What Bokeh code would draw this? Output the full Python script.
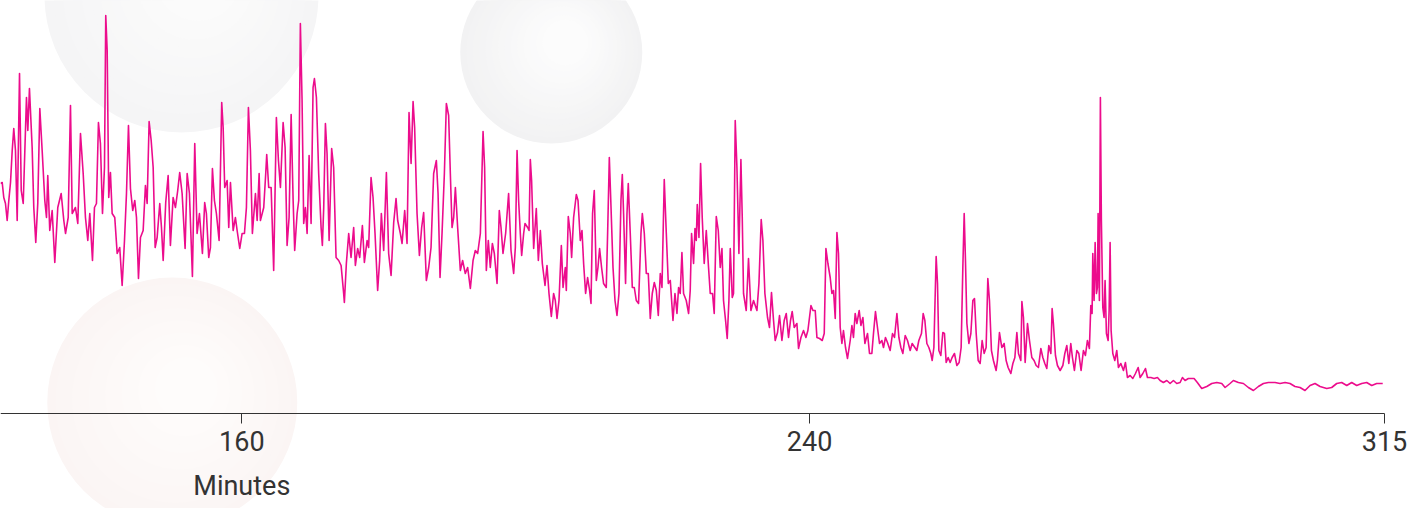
import numpy as np
from bokeh.plotting import figure
from bokeh.models import Range1d, FixedTicker, Label
from bokeh.embed import file_html
from bokeh.resources import INLINE

# ---- recorded signal: time (minutes) and level, in sections ----
minutes_a = [126.00, 126.24, 126.46, 126.70, 126.94, 127.17, 127.41, 127.65, 127.87, 128.11, 128.35, 128.68, 128.92, 129.20,
             129.66, 129.85, 130.08, 130.46, 130.69, 130.97, 131.25, 131.54, 131.87, 132.24, 132.48, 132.66, 132.94, 133.28,
             133.65, 134.07, 134.55, 134.92, 135.16, 135.54, 135.86, 136.10, 136.56, 136.89, 137.27, 137.65, 137.97, 138.30,
             138.58, 138.96, 139.24, 139.52, 139.80, 140.08, 140.37, 140.65, 140.83, 141.03, 141.25, 141.49, 141.73, 142.10,
             142.44, 142.80, 143.14, 143.47, 143.75, 144.03, 144.31, 144.63, 144.92, 145.16, 145.44, 145.72, 146.10, 146.42,
             146.66, 146.94, 147.23, 147.51, 147.79, 148.07, 148.44, 148.68, 148.92, 149.28, 149.62, 149.94]
level_a = [230, 231, 216, 210, 193, 213, 231, 263, 285, 263, 193, 340, 223, 210, 316, 283, 325, 266, 206, 171, 210, 305, 263,
           213, 196, 238, 183, 203, 151, 206, 220, 193, 180, 196, 308, 200, 206, 190, 280, 240, 196, 173, 200, 153, 206, 210,
           291, 270, 200, 246, 398, 363, 216, 241, 200, 196, 160, 166, 128, 173, 220, 288, 225, 203, 213, 196, 135, 176, 183,
           228, 210, 292, 273, 246, 166, 176, 210, 186, 153, 211, 238, 168]

minutes_b = [150.32, 150.65, 150.97, 151.25, 151.59, 152.01, 152.30, 152.62, 153.04, 153.37, 153.70, 154.03, 154.45, 154.77,
             155.01, 155.34, 155.58, 155.86, 156.14, 156.42, 156.80, 157.17, 157.37, 157.59, 157.93, 158.16, 158.40, 158.78,
             159.10, 159.34, 159.71, 160.04, 160.37, 160.65, 160.93, 161.21, 161.49, 161.92, 162.16, 162.44, 162.62, 163.09,
             163.37, 163.51, 163.79, 164.13, 164.49, 164.87, 165.16, 165.44, 165.82, 166.10, 166.38, 166.66, 166.95, 167.23,
             167.45, 167.79, 168.02, 168.25, 168.49, 168.72, 168.96, 169.20, 169.48, 169.76, 170.04, 170.23, 170.51, 170.83,
             171.17, 171.35, 171.54, 171.78, 172.01, 172.30, 172.66, 172.94, 173.28, 173.65, 173.99]
level_b = [216, 206, 223, 241, 220, 165, 240, 220, 137, 270, 180, 200, 160, 211, 200, 156, 166, 245, 213, 200, 173, 311, 286,
           226, 233, 186, 231, 183, 196, 183, 165, 180, 180, 206, 306, 263, 180, 220, 193, 240, 193, 206, 240, 259, 226, 226,
           143, 296, 253, 226, 291, 266, 168, 196, 299, 213, 163, 200, 213, 390, 313, 190, 206, 180, 258, 190, 326, 335, 316,
           240, 186, 168, 206, 290, 260, 173, 265, 246, 156, 153, 148]

minutes_c = [174.35, 174.45, 174.73, 175.06, 175.39, 175.76, 176.00, 176.32, 176.61, 176.99, 177.27, 177.65, 177.87, 178.21,
             178.49, 178.77, 179.14, 179.42, 179.66, 179.99, 180.37, 180.69, 181.03, 181.40, 181.73, 181.96, 182.34, 182.58,
             182.95, 183.28, 183.56, 183.85, 184.13, 184.35, 184.69, 185.02, 185.34, 185.62, 186.00, 186.33, 186.66, 187.03,
             187.41, 187.65, 187.93, 188.21, 188.54, 188.82, 189.14, 189.38, 189.62, 189.85, 190.09, 190.41, 190.79, 191.11,
             191.49, 191.82, 192.20, 192.58, 192.90, 193.23, 193.61, 193.99, 194.21, 194.45, 194.73, 195.01, 195.30, 195.58,
             195.96, 196.28, 196.52, 196.80, 197.17, 197.59, 197.93]
level_c = [120, 111, 150, 180, 156, 186, 148, 165, 156, 188, 151, 173, 166, 236, 216, 180, 123, 153, 200, 163, 241, 160, 138,
           191, 215, 193, 180, 170, 203, 170, 301, 250, 312, 286, 200, 158, 186, 201, 133, 146, 166, 240, 253, 220, 136, 180,
           240, 310, 298, 240, 186, 196, 226, 186, 143, 153, 140, 146, 125, 153, 163, 160, 180, 282, 246, 143, 173, 146, 170,
           160, 130, 203, 186, 160, 180, 220, 163]

minutes_d = [198.30, 198.54, 198.78, 199.00, 199.24, 199.43, 199.71, 199.90, 200.27, 200.47, 200.65, 200.83, 201.12, 201.49,
             201.78, 202.06, 202.34, 202.72, 203.00, 203.28, 203.61, 203.93, 204.17, 204.41, 204.69, 205.02, 205.26, 205.58,
             205.72, 206.00, 206.28, 206.47, 206.75, 207.13, 207.37, 207.69, 207.93, 208.16, 208.44, 208.72, 209.00, 209.20,
             209.42, 209.66, 209.95, 210.18, 210.41, 210.69, 210.97, 211.35, 211.54, 211.78, 212.02, 212.30, 212.58, 212.86,
             213.14, 213.42, 213.61, 213.79, 214.07, 214.27, 214.45, 214.73, 215.02, 215.30, 215.58, 215.90, 216.24, 216.43,
             216.71, 216.99, 217.27, 217.55, 217.83, 218.12, 218.40, 218.68, 218.96, 219.20, 219.52, 219.81, 220.09, 220.37,
             220.75, 221.03, 221.31, 221.54]
level_d = [140, 166, 263, 213, 180, 158, 180, 190, 186, 183, 254, 233, 165, 205, 153, 183, 150, 128, 148, 120, 97, 120, 113,
           95, 113, 168, 126, 146, 123, 197, 180, 156, 196, 219, 213, 173, 183, 150, 120, 136, 123, 110, 200, 223, 133, 146,
           165, 146, 130, 126, 180, 256, 206, 146, 113, 98, 120, 213, 239, 200, 130, 200, 230, 180, 126, 126, 113, 110, 180,
           200, 180, 140, 140, 95, 120, 131, 123, 98, 140, 126, 234, 180, 130, 133, 93, 120, 100, 126]

minutes_e = [221.77, 222.01, 222.24, 222.62, 222.95, 223.18, 223.37, 223.65, 223.85, 224.03, 224.17, 224.41, 224.64, 224.87,
             225.15, 225.44, 225.76, 226.00, 226.32, 226.56, 226.85, 227.13, 227.41, 227.65, 227.87, 228.16, 228.39, 228.63,
             228.82, 229.10, 229.28, 229.52, 229.76, 230.04, 230.32, 230.51, 230.69, 231.07, 231.39, 231.73, 232.10, 232.58,
             232.86, 233.18, 233.42, 233.70, 234.07, 234.35, 234.63, 234.92, 235.15, 235.48, 235.76, 236.10, 236.42, 236.71,
             237.03, 237.31, 237.55, 237.83, 238.21, 238.44, 238.78, 239.14, 239.48, 239.76, 240.19, 240.47, 240.79, 241.03,
             241.40, 241.78, 242.06, 242.30, 242.58, 242.90, 243.14, 243.37, 243.61, 243.85, 244.07, 244.31, 244.55, 244.77,
             245.06, 245.34, 245.72]
level_e = [120, 161, 120, 113, 100, 123, 180, 150, 185, 173, 209, 176, 250, 196, 150, 183, 146, 120, 120, 100, 197, 183, 146,
           165, 113, 93, 75, 113, 165, 116, 120, 293, 246, 160, 254, 196, 120, 103, 155, 103, 113, 103, 130, 194, 173, 120,
           96, 86, 121, 93, 73, 81, 98, 73, 93, 100, 76, 93, 102, 86, 90, 65, 76, 83, 76, 83, 108, 103, 103, 76, 75, 73, 80,
           165, 150, 136, 120, 123, 95, 181, 160, 86, 70, 83, 66, 55, 73]

minutes_f = [245.96, 246.18, 246.42, 246.66, 246.99, 247.23, 247.51, 247.79, 248.16, 248.44, 248.77, 249.00, 249.28, 249.56,
             249.85, 250.18, 250.41, 250.69, 250.97, 251.35, 251.68, 251.96, 252.30, 252.58, 252.86, 253.14, 253.47, 253.79,
             254.17, 254.45, 254.83, 255.11, 255.39, 255.76, 256.00, 256.24, 256.52, 256.80, 257.08, 257.27, 257.51, 257.83,
             258.02, 258.21, 258.49, 258.77, 259.00, 259.24, 259.52, 259.80, 260.08, 260.41, 260.75, 261.07, 261.35, 261.59,
             261.78, 261.96, 262.16, 262.44, 262.72, 263.00, 263.23, 263.47, 263.75, 264.03, 264.31, 264.59, 264.87, 265.11,
             265.34, 265.62, 265.90, 266.28, 266.46, 266.75, 267.08, 267.41, 267.69, 267.97, 268.35, 268.64, 268.92, 269.20,
             269.43, 269.76]
level_f = [88, 76, 100, 90, 103, 88, 96, 70, 80, 60, 60, 80, 102, 86, 70, 73, 66, 76, 71, 63, 80, 76, 100, 76, 66, 60, 78, 73,
           63, 70, 66, 63, 73, 80, 100, 93, 70, 66, 60, 53, 66, 157, 130, 63, 58, 81, 80, 51, 56, 51, 56, 60, 48, 51, 66, 146,
           200, 153, 90, 70, 80, 113, 115, 80, 53, 50, 73, 60, 66, 135, 113, 63, 53, 43, 53, 81, 66, 70, 53, 46, 40, 50, 56,
           81, 60, 53]

minutes_g = [269.91, 270.13, 270.37, 270.70, 270.98, 271.31, 271.63, 271.92, 272.24, 272.58, 272.86, 273.14, 273.42, 273.70,
             273.99, 274.17, 274.35, 274.64, 274.92, 275.30, 275.68, 275.96, 276.24, 276.52, 276.80, 277.03, 277.31, 277.65,
             277.93, 278.25, 278.58, 278.86, 279.14, 279.42, 279.62, 279.80, 279.90, 280.08, 280.23, 280.41, 280.55, 280.65,
             280.83, 280.97, 281.11, 281.31, 281.49, 281.63, 281.82, 282.06, 282.20, 282.34, 282.48, 282.72, 283.00, 283.28,
             283.51, 283.85, 284.22, 284.50, 284.78, 285.16, 285.54, 285.91, 286.29, 286.57, 286.95, 287.32, 287.60, 288.08,
             288.54, 289.01, 289.38, 289.85, 290.33, 290.79, 291.26, 291.73, 292.20, 292.53, 292.90, 293.37]
level_g = [112, 96, 51, 90, 73, 56, 53, 48, 46, 65, 56, 50, 45, 68, 60, 105, 90, 58, 48, 43, 48, 60, 68, 50, 70, 56, 43, 63,
           60, 43, 63, 58, 73, 65, 108, 100, 160, 113, 171, 120, 126, 200, 113, 316, 193, 106, 96, 133, 80, 73, 103, 171, 83,
           60, 53, 63, 46, 50, 43, 51, 36, 38, 35, 40, 46, 36, 40, 45, 36, 36, 35, 36, 33, 31, 33, 30, 33, 30, 31, 36, 33, 35]

minutes_h = [293.61, 294.17, 294.63, 295.25, 295.96, 296.66, 297.37, 298.07, 298.54, 299.24, 299.71, 300.41, 301.12, 301.82,
             302.53, 303.23, 303.94, 304.64, 305.58, 306.28, 306.99, 307.69, 308.39, 309.10, 309.80, 310.51, 311.21, 311.92,
             312.86, 313.56, 314.27, 314.97, 315.68, 316.38, 317.08, 317.79, 318.49, 319.20, 319.90, 320.75]
level_h = [35, 35, 31, 25, 27, 30, 31, 30, 26, 30, 33, 31, 30, 26, 23, 27, 30, 31, 31, 30, 31, 30, 27, 26, 23, 28, 30, 27, 25,
           26, 30, 31, 28, 31, 28, 30, 31, 28, 30, 30]

tick_positions = [160, 240, 321]
tick_labels = ["160", "240", "315"]
axis_title = "Minutes"

minutes = minutes_a + minutes_b + minutes_c + minutes_d + minutes_e + minutes_f + minutes_g + minutes_h
level = level_a + level_b + level_c + level_d + level_e + level_f + level_g + level_h

LINE_COLOR = "#ec0c8c"
INK = "#333333"
FONT = "Roboto"

W, H = 1418, 508
T0, T_END = 126, 321               # span covered by the time axis
PX_PER_MIN = 1384 / (T_END - T0)
X1 = T0 + W / PX_PER_MIN           # plot area runs to the right edge so the last label is not cut

# the plot area runs the full height; the time axis sits at level 0 inside it
p = figure(width=W, height=H, x_range=Range1d(T0, X1), y_range=Range1d(-95, 413),
           output_backend="svg", toolbar_location=None, title=None, y_axis_location=None,
           min_border_left=0, min_border_right=0, min_border_top=0, min_border_bottom=0)
p.outline_line_color = None
p.grid.visible = False
p.background_fill_color = "white"
p.border_fill_color = "white"


# soft decorative bubbles in the background, shaded from rim to a lighter centre
def bubble(cx, cy, r_px, rim, core, shift, steps=14):
    rim, core = np.array(rim, float), np.array(core, float)
    for i in range(steps):
        f = i / (steps - 1)
        rgb = np.round(rim + (core - rim) * f).astype(int)
        color = "#%02x%02x%02x" % tuple(rgb)
        p.scatter(x=[cx + shift[0] * f / PX_PER_MIN], y=[cy + shift[1] * f],
                  size=2 * r_px * (1 - 0.75 * f), marker="circle",
                  fill_color=color, line_color=None, level="image")


bubble(151.5, 418, 137, (245, 245, 246), (251, 251, 251), (18, 18))
bubble(203.6, 361, 91, (242, 242, 243), (252, 252, 252), (14, 10))
bubble(150.2, 11, 125, (251, 245, 244), (254, 252, 251), (14, 14))

p.line(minutes, level, line_color=LINE_COLOR, line_width=1.6, line_join="round")

ax = p.xaxis[0]
ax.fixed_location = 0
ax.bounds = (T0, T_END)
ax.ticker = FixedTicker(ticks=tick_positions)
ax.major_label_overrides = {t_: lab for t_, lab in zip(tick_positions, tick_labels)}
ax.minor_tick_line_color = None
ax.major_tick_in = 0
ax.major_tick_out = 10
ax.axis_line_color = INK
ax.major_tick_line_color = INK
ax.major_label_text_font = FONT
ax.major_label_text_font_size = "27px"
ax.major_label_text_color = INK
ax.major_label_standoff = 7

p.add_layout(Label(x=160, y=-72, text=axis_title, text_align="center", text_baseline="alphabetic",
                   text_font=FONT, text_font_size="27px", text_color=INK))

open("out.html", "w").write(file_html(p, INLINE))
